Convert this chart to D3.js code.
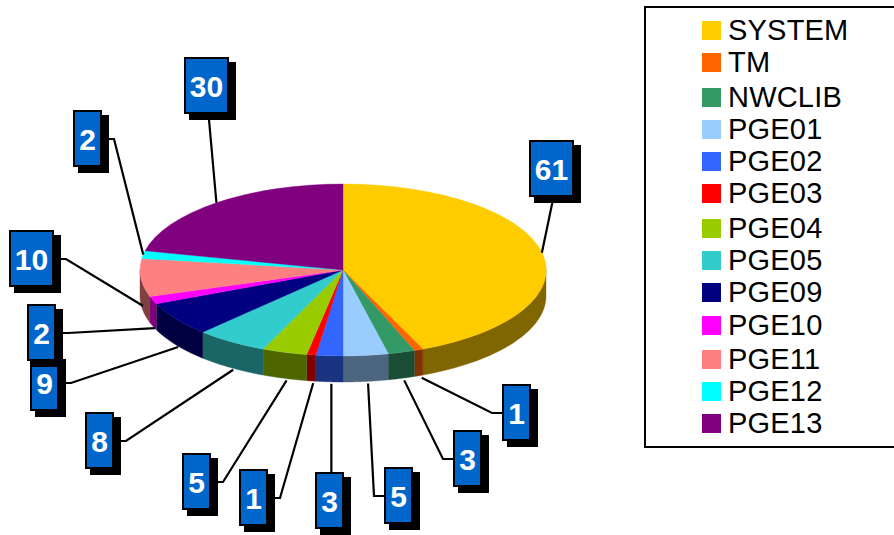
<!DOCTYPE html>
<html>
<head>
<meta charset="utf-8">
<script src="https://cdn.jsdelivr.net/npm/d3@7/dist/d3.min.js"></script>
<style>
html,body{margin:0;padding:0;background:#fff;overflow:hidden}
svg{display:block}
text{font-family:"Liberation Sans",Arial,sans-serif}
</style>
</head>
<body>
<svg id="chart" width="894" height="535"></svg>
<script>
const categories = ["SYSTEM","TM","NWCLIB","PGE01","PGE02","PGE03","PGE04","PGE05","PGE09","PGE10","PGE11","PGE12","PGE13"];
const seriesValues = [61,1,3,5,3,1,5,8,9,2,10,2,30];
const sliceColors = ["#FFCC00","#FF6600","#339966","#99CCFF","#3366FF","#FF0000","#99CC00","#33CCCC","#000080","#FF00FF","#FF8080","#00FFFF","#800080"];

// Hand-placed callouts and legend rows of the reference (layout only)
const calloutX = [529,502,453,384,315,239,182,85,30,27,9,73,184];
const calloutY = [140,384,430,467,472,469,453,412,354,304,230,110,57];
const calloutSide = ["bottom","left","left","left","top","right","right","right","right","right","right","right","bottom"];
const legendRowY = [40,72,107,139,171,203,238,270,302,335,369,401,433];

const cx = 343, cy = 270, rx = 203, ry = 86, depth = 26, gap = 2;
const svg = d3.select("#chart");

const pie = d3.pie().sort(null).value(d => d);
const arcs = pie(seriesValues);
const pt = (a, dy = 0) => [cx + rx * Math.sin(a), cy - ry * Math.cos(a) + dy];

// Side walls: visible only on the front half of the ellipse
const wall = svg.append("g");
const line = d3.line();
arcs.forEach((s, i) => {
  const a0 = Math.max(s.startAngle, Math.PI / 2);
  const a1 = Math.min(s.endAngle, 3 * Math.PI / 2);
  if (a1 <= a0) return;
  const angs = d3.range(0, 41).map(k => a0 + (a1 - a0) * k / 40);
  const pts = angs.map(a => pt(a)).concat(angs.slice().reverse().map(a => pt(a, depth)));
  const c = d3.rgb(sliceColors[i]);
  const dark = d3.rgb(c.r / 2, c.g / 2, c.b / 2);
  wall.append("path").attr("d", line(pts) + "Z").attr("fill", dark).attr("stroke", dark).attr("stroke-width", 0.4);
});

// Top face
const arcGen = d3.arc().innerRadius(0).outerRadius(1);
svg.append("g").attr("transform", `translate(${cx},${cy}) scale(${rx},${ry})`)
  .selectAll("path").data(arcs).join("path")
  .attr("d", arcGen)
  .attr("fill", (d, i) => sliceColors[i])
  .attr("stroke", (d, i) => sliceColors[i])
  .attr("stroke-width", 0.4)
  .attr("vector-effect", "non-scaling-stroke");

// Callouts
const boxH = 57;
const boxW = v => String(v).length > 1 ? 45 : 29;
const leaders = svg.append("g");
const boxes = svg.append("g");
arcs.forEach((s, i) => {
  const v = seriesValues[i], x = calloutX[i], y = calloutY[i], w = boxW(v), mid = y + boxH / 2 + 0.5;
  const a = (s.startAngle + s.endAngle) / 2;
  const front = Math.cos(a) < 0;
  const base = pt(a, front ? depth + gap : 0);
  const start = front ? [base[0] + 2 + Math.max(0, Math.sin(a)) * 3, base[1]] : base;
  let pts;
  switch (calloutSide[i]) {
    case "left":   pts = [start, [x - 10, mid], [x, mid]]; break;
    case "right":  pts = [start, [x + w + 12, mid], [x + w, mid]]; break;
    case "top":    pts = [start, [start[0], y]]; break;
    default:       pts = [start, [x + w / 2 + 2, y + boxH]];
  }
  leaders.append("path").attr("d", line(pts)).attr("fill", "none").attr("stroke", "#000").attr("stroke-width", 2.2);
});
// later callouts are stacked above earlier ones only where the reference does: PGE10 over PGE09
seriesValues.forEach((v, i) => {
  const x = calloutX[i], y = calloutY[i], w = boxW(v);
  boxes.append("rect").attr("x", x + 5).attr("y", y + 5).attr("width", w + 2).attr("height", boxH + 1).attr("fill", "#000");
  boxes.append("rect").attr("x", x + 1).attr("y", y + 1).attr("width", w - 2).attr("height", boxH - 2)
    .attr("fill", "#0066CC").attr("stroke", "#000").attr("stroke-width", 2);
  boxes.append("text").attr("x", x + w / 2).attr("y", y + boxH / 2 + 11)
    .attr("text-anchor", "middle").attr("font-size", 30).attr("font-weight", "bold").attr("fill", "#fff").text(v);
});

// Legend
svg.append("rect").attr("x", 645).attr("y", 7).attr("width", 260).attr("height", 440)
  .attr("fill", "none").attr("stroke", "#000").attr("stroke-width", 2);
const legend = svg.append("g").selectAll("g").data(categories).join("g");
legend.append("rect").attr("x", 702).attr("width", 19).attr("height", 19)
  .attr("y", (d, i) => legendRowY[i] - 19).attr("fill", (d, i) => sliceColors[i]);
legend.append("text").attr("x", 728).attr("y", (d, i) => legendRowY[i])
  .attr("font-size", 29).attr("letter-spacing", 0.2).attr("fill", "#000").text(d => d);
</script>
</body>
</html>
